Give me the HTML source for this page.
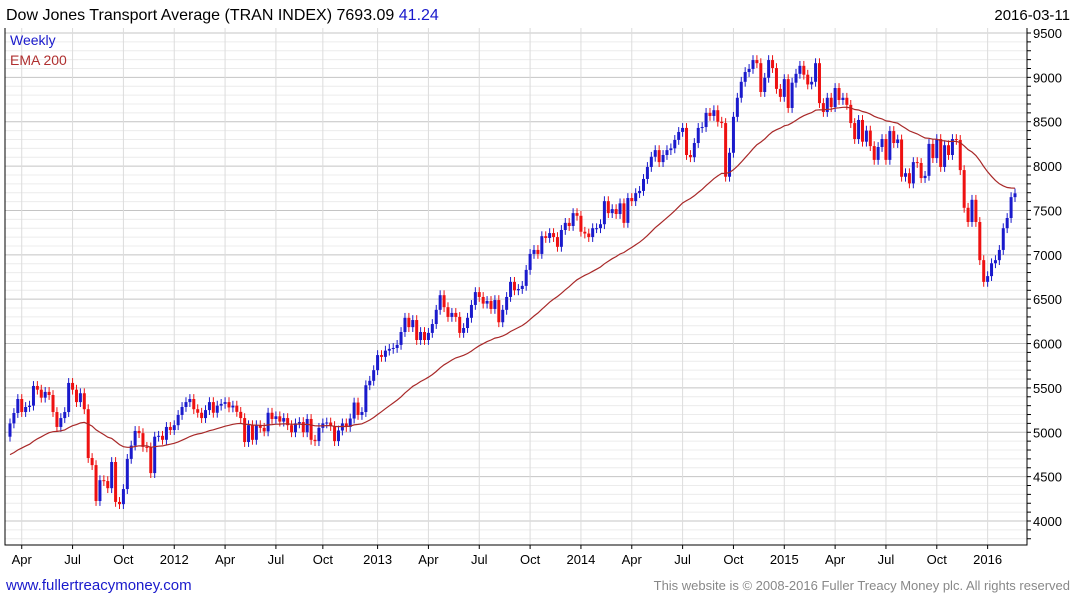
<!DOCTYPE html>
<html><head><meta charset="utf-8"><style>
body{margin:0;background:#fff;font-family:"Liberation Sans",sans-serif;}
svg text{font-family:"Liberation Sans",sans-serif;}
</style></head><body>
<svg id="c" width="1075" height="600" xmlns="http://www.w3.org/2000/svg">
<rect width="1075" height="600" fill="#fff"/>
<g id="grid"></g><g id="marks"></g><g id="axes"></g>
<text x="6" y="20" font-size="16" fill="#000">Dow Jones Transport Average (TRAN INDEX) 7693.09 <tspan fill="#1a1acc">41.24</tspan></text>
<text x="1070" y="20" font-size="15" text-anchor="end" fill="#000">2016-03-11</text>
<text x="10" y="45" font-size="14" fill="#1a1acc">Weekly</text>
<text x="10" y="65" font-size="14" fill="#b03030">EMA 200</text>
<text x="6" y="590" font-size="15" fill="#1a1acc">www.fullertreacymoney.com</text>
<text x="1070" y="590" font-size="13" text-anchor="end" fill="#888">This website is © 2008-2016 Fuller Treacy Money plc. All rights reserved</text>
</svg>
<script>
const closes=[5100,5217,5375,5228,5285,5300,5522,5480,5390,5455,5420,5228,5060,5160,5228,5556,5480,5340,5440,5260,4710,4630,4225,4460,4450,4370,4665,4215,4190,4360,4700,4850,5015,4990,4835,4830,4540,4950,4960,4915,5060,5025,5080,5195,5285,5340,5375,5260,5220,5160,
5250,5340,5220,5300,5320,5340,5280,5300,5230,5160,4890,5080,4915,5080,5050,5010,5220,5150,5180,5120,5160,5080,5000,5100,5115,5000,5150,4915,4900,5050,5100,5110,5070,4900,5020,5100,5060,5155,5335,5195,5228,5530,5580,
5700,5870,5850,5920,5940,5950,5985,6130,6290,6185,6265,6040,6130,6040,6120,6220,6380,6545,6410,6300,6345,6300,6120,6175,6290,6435,6580,6525,6450,6480,6390,6490,6240,6380,6525,6695,6600,6615,6650,6830,7010,7055,7010,7210,7190,7245,7200,7090,7280,7360,7325,7470,7440,7260,7240,7200,7300,7300,7345,7605,7470,7515,7460,7580,7360,7640,7605,7695,7720,7855,7990,8105,8180,8045,8125,8180,8200,
8295,8385,8430,8125,8100,8260,8430,8440,8600,8565,8630,8500,8485,7880,8150,8555,8770,8950,9060,9095,9195,9160,8835,8995,9195,9105,8870,8780,8980,8655,8940,9040,9130,9030,8920,8950,9160,8710,8610,8770,8665,8880,8745,8770,8690,8485,8305,8520,8275,8400,8225,8070,8215,8305,8070,8395,8260,8300,7880,7920,7805,8045,8035,7865,7890,8250,8090,8305,7990,8235,8125,8305,8295,7955,7530,7370,7620,7370,6940,6695,6760,6905,6940,7055,7300,7415,7650,7693.09];
const firstOpen=4950;
const emaSeed=4730;
const yTicks=[4000,4500,5000,5500,6000,6500,7000,7500,8000,8500,9000,9500];
const xLabels=["Apr","Jul","Oct","2012","Apr","Jul","Oct","2013","Apr","Jul","Oct","2014","Apr","Jul","Oct","2015","Apr","Jul","Oct","2016"];
const xLabelWeeks=[3,16,29,42,55,68,80,94,107,120,133,146,159,172,185,198,211,224,237,250];

const NS="http://www.w3.org/2000/svg";
const L=5,R=1027,T=28,B=545;
const n=closes.length;
const xs=i=>10+i*(1005/(n-1));
const ys=v=>33+(9500-v)*(488/5500);
function mk(tag,attrs,parent){const e=document.createElementNS(NS,tag);for(const k in attrs)e.setAttribute(k,attrs[k]);parent.appendChild(e);return e;}
const grid=document.getElementById('grid'),marks=document.getElementById('marks'),axes=document.getElementById('axes');
for(let v=3800;v<=9600;v+=100){const y=ys(v);if(y<T||y>B)continue;
 const ln=mk('line',{x1:L,x2:R,y1:y,y2:y,stroke:v%500===0?'#c4c4c4':'#ececec','stroke-width':1},grid);
 
 
 const tk=mk('line',{x1:R,x2:R+4,y1:y,y2:y,stroke:'#000','stroke-width':1},axes);
 
 
}
yTicks.forEach(v=>{const t=mk('text',{x:1033,y:ys(v)+5,'font-size':13,fill:'#000'},axes);t.textContent=v;
 
 });
xLabels.forEach((lab,k)=>{const x=xs(xLabelWeeks[k]);
 const g=mk('line',{x1:x,x2:x,y1:T,y2:B,stroke:'#dcdcdc','stroke-width':1},grid);
 
 
 const tk=mk('line',{x1:x,x2:x,y1:B,y2:B+4,stroke:'#000'},axes);
 
 
 const t=mk('text',{x:x,y:564,'font-size':13,'text-anchor':'middle',fill:'#000'},axes);t.textContent=lab;
 
 });
const fr=mk('path',{d:`M${L} ${T}V${B}H${R}V${T}`,fill:'none',stroke:'#000','stroke-width':1},axes);


let prev=firstOpen;
closes.forEach((c,i)=>{const o=prev;prev=c;const up=c>=o;const col=up?'#1a1acc':'#ee1111';
 const x=xs(i);const hi=Math.max(o,c)+55,lo=Math.min(o,c)-55;
 const w=mk('line',{x1:x,x2:x,y1:ys(hi),y2:ys(lo),stroke:col,'stroke-width':1},marks);
 
 
 const top=ys(Math.max(o,c)),bot=ys(Math.min(o,c));
 const b=mk('rect',{x:x-1.5,y:top,width:3,height:Math.max(1,bot-top),fill:col},marks);
 
 
});
let e=emaSeed;const a=2/41;let d='';
closes.forEach((c,i)=>{e=e+a*(c-e);d+=(i?'L':'M')+xs(i).toFixed(1)+' '+ys(e).toFixed(1);});
const p=mk('path',{d:d,fill:'none',stroke:'#a82828','stroke-width':1.2},marks);


</script>
</body></html>
